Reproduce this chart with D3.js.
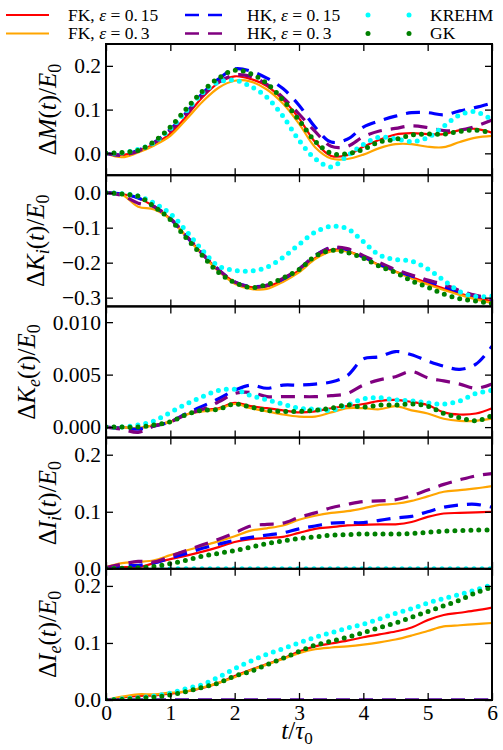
<!DOCTYPE html>
<html>
<head>
<meta charset="utf-8">
<script src="https://cdn.jsdelivr.net/npm/d3@7"></script>
<style>
  body { margin: 0; background: #fff; }
  svg { font-family: "Liberation Serif", "DejaVu Serif", serif; }
</style>
</head>
<body>
<div id="chart"></div>
<script>
// time samples (t / tau0)
const times = [0, 0.25, 0.5, 0.75, 1, 1.25, 1.5, 1.75, 2, 2.25, 2.5, 2.75, 3,
               3.25, 3.5, 3.75, 4, 4.25, 4.5, 4.75, 5, 5.25, 5.5, 5.75, 6];
const xTicks = [0, 1, 2, 3, 4, 5, 6];

// Delta M(t)/E0
const mFK15  = [0,-0.004,0.006,0.021,0.045,0.085,0.128,0.161,0.176,0.170,0.154,0.123,0.080,0.026,-0.006,-0.004,0.015,0.031,0.043,0.046,0.044,0.044,0.053,0.056,0.047];
const mFK30  = [0,-0.009,0.002,0.018,0.040,0.078,0.118,0.150,0.166,0.164,0.146,0.114,0.068,0.014,-0.012,-0.013,-0.003,0.012,0.021,0.021,0.015,0.014,0.026,0.036,0.040];
const mHK15  = [0,-0.004,0.007,0.025,0.055,0.093,0.137,0.170,0.193,0.188,0.172,0.148,0.110,0.060,0.026,0.032,0.060,0.074,0.085,0.093,0.093,0.088,0.097,0.105,0.115];
const mHK30  = [0,-0.004,0.005,0.024,0.052,0.090,0.133,0.163,0.179,0.176,0.158,0.128,0.090,0.050,0.016,0.016,0.038,0.051,0.057,0.063,0.059,0.052,0.053,0.062,0.076];
const mKREHM = [0,0.001,0.009,0.025,0.056,0.097,0.138,0.163,0.167,0.153,0.128,0.085,0.030,-0.012,-0.031,-0.006,0.020,0.037,0.033,0.027,0.036,0.062,0.088,0.095,0.076];
const mGK    = [0,0.002,0.007,0.027,0.060,0.102,0.142,0.172,0.190,0.182,0.160,0.122,0.076,0.028,0.000,-0.001,0.009,0.026,0.032,0.042,0.044,0.044,0.050,0.053,0.047];

// Delta K_i(t)/E0
const kiFK15  = [0,-0.004,-0.015,-0.040,-0.075,-0.125,-0.175,-0.222,-0.255,-0.270,-0.268,-0.250,-0.222,-0.187,-0.163,-0.167,-0.185,-0.207,-0.225,-0.242,-0.258,-0.274,-0.288,-0.300,-0.310];
const kiFK30  = [0,-0.006,-0.040,-0.048,-0.076,-0.127,-0.178,-0.225,-0.260,-0.275,-0.275,-0.255,-0.228,-0.190,-0.168,-0.168,-0.186,-0.208,-0.226,-0.245,-0.262,-0.278,-0.292,-0.305,-0.315];
const kiHK15  = [0,-0.004,-0.015,-0.040,-0.075,-0.125,-0.175,-0.220,-0.255,-0.268,-0.265,-0.247,-0.218,-0.180,-0.157,-0.163,-0.183,-0.205,-0.222,-0.238,-0.252,-0.268,-0.283,-0.295,-0.305];
const kiHK30  = [0,-0.008,-0.030,-0.040,-0.073,-0.123,-0.175,-0.220,-0.255,-0.270,-0.265,-0.245,-0.218,-0.180,-0.157,-0.160,-0.180,-0.200,-0.220,-0.235,-0.250,-0.262,-0.280,-0.293,-0.302];
const kiKREHM = [0,-0.003,-0.010,-0.030,-0.060,-0.110,-0.165,-0.210,-0.222,-0.224,-0.213,-0.185,-0.148,-0.113,-0.096,-0.103,-0.140,-0.178,-0.191,-0.196,-0.218,-0.250,-0.283,-0.297,-0.295];
const kiGK    = [0,-0.004,-0.010,-0.040,-0.077,-0.130,-0.180,-0.228,-0.257,-0.271,-0.263,-0.244,-0.220,-0.182,-0.165,-0.171,-0.187,-0.210,-0.228,-0.252,-0.270,-0.290,-0.303,-0.310,-0.317];

// Delta K_e(t)/E0
const keFK15  = [0,0,-0.0001,0.0002,0.0005,0.0012,0.0016,0.0018,0.0023,0.0020,0.0018,0.0016,0.0014,0.0015,0.0018,0.0020,0.0022,0.0025,0.0026,0.0024,0.0021,0.0014,0.0012,0.0013,0.0018];
const keFK30  = [0,0,-0.0001,0.0002,0.0005,0.0012,0.0015,0.0017,0.0022,0.0018,0.0015,0.0012,0.0010,0.0010,0.0014,0.0018,0.0018,0.0017,0.0020,0.0016,0.0013,0.0008,0.0006,0.0006,0.0008];
const keHK15  = [0,-0.0001,-0.0002,0.0001,0.0005,0.0013,0.0020,0.0027,0.0035,0.0040,0.0037,0.0040,0.0040,0.0041,0.0043,0.0049,0.0065,0.0067,0.0072,0.0069,0.0063,0.0058,0.0055,0.0060,0.0077];
const keHK30  = [0,-0.0002,-0.0005,0.0001,0.0005,0.0012,0.0017,0.0024,0.0032,0.0033,0.0029,0.0029,0.0029,0.0029,0.0030,0.0032,0.0040,0.0045,0.0048,0.0053,0.0047,0.0044,0.0041,0.0037,0.0041];
const keKREHM = [0,0,0.0002,0.0006,0.0014,0.0022,0.0029,0.0035,0.0036,0.0030,0.0026,0.0022,0.0018,0.0017,0.0016,0.0021,0.0027,0.0028,0.0026,0.0025,0.0023,0.0022,0.0025,0.0032,0.0035];
const keGK    = [0,0,0,0.0002,0.0005,0.0012,0.0016,0.0017,0.0022,0.0019,0.0016,0.0015,0.0015,0.0016,0.0018,0.0021,0.0019,0.0021,0.0021,0.0022,0.0020,0.0013,0.0009,0.0006,0.0011];

// Delta I_i(t)/E0
const iiFK15  = [0,0.003,0.003,0.010,0.017,0.023,0.030,0.038,0.047,0.052,0.054,0.056,0.063,0.070,0.073,0.076,0.077,0.078,0.078,0.082,0.091,0.097,0.098,0.099,0.100];
const iiFK30  = [0.003,0.010,0.012,0.015,0.024,0.032,0.040,0.048,0.057,0.067,0.071,0.076,0.086,0.093,0.098,0.101,0.106,0.112,0.114,0.119,0.127,0.135,0.138,0.141,0.145];
const iiHK15  = [0,0.005,0.006,0.010,0.019,0.027,0.036,0.043,0.050,0.055,0.059,0.063,0.070,0.075,0.080,0.081,0.081,0.085,0.089,0.092,0.100,0.108,0.112,0.113,0.108];
const iiHK30  = [0.002,0.008,0.013,0.012,0.022,0.032,0.042,0.052,0.063,0.075,0.078,0.080,0.090,0.098,0.107,0.113,0.118,0.119,0.121,0.128,0.138,0.148,0.156,0.163,0.167];
const iiKREHM = [0,0,0,0,0,0,0,0,0,0,0,0,0,0,0,0,0,0,0,0,0,0,0,0,0];
const iiGK    = [0,0.001,0.002,0.004,0.009,0.015,0.022,0.027,0.032,0.038,0.044,0.049,0.053,0.056,0.059,0.060,0.061,0.061,0.061,0.062,0.064,0.066,0.067,0.068,0.068];

// Delta I_e(t)/E0
const ieFK15  = [0,0.004,0.007,0.008,0.011,0.015,0.021,0.030,0.042,0.053,0.063,0.073,0.085,0.094,0.099,0.104,0.110,0.115,0.120,0.127,0.140,0.149,0.153,0.157,0.162];
const ieFK30  = [0,0.006,0.010,0.010,0.013,0.015,0.022,0.030,0.040,0.052,0.062,0.072,0.082,0.089,0.092,0.094,0.097,0.101,0.106,0.113,0.121,0.129,0.131,0.133,0.135];
const ieHK15  = [0,0,0,0,0,0,0,0,0,0,0,0,0,0,0,0,0,0,0,0,0,0,0,0,0];
const ieHK30  = [0,0,0,0,0,0,0,0,0,0,0,0,0,0,0,0,0,0,0,0,0,0,0,0,0];
const ieKREHM = [0,0.002,0.004,0.007,0.012,0.020,0.027,0.040,0.055,0.068,0.080,0.090,0.100,0.110,0.118,0.126,0.133,0.142,0.152,0.160,0.170,0.178,0.185,0.193,0.202];
const ieGK    = [0,0.001,0.003,0.005,0.009,0.015,0.022,0.030,0.042,0.050,0.062,0.073,0.085,0.096,0.103,0.110,0.118,0.127,0.135,0.145,0.155,0.165,0.175,0.188,0.198];

const seriesNames = ["FK15", "FK30", "HK15", "HK30", "KREHM", "GK"];
const legendLabels = [["FK, ", "0.", "15"], ["FK, ", "0.", "3"], ["HK, ", "0.", "15"],
                      ["HK, ", "0.", "3"], ["KREHM"], ["GK"]];

const seriesStyle = {
  FK15:  { color: "#ff0000", width: 2.2, dash: null,   cap: "butt" },
  FK30:  { color: "#ffa500", width: 2.2, dash: null,   cap: "butt" },
  HK15:  { color: "#0000ff", width: 3.2, dash: "14,9", cap: "butt" },
  HK30:  { color: "#800080", width: 3.2, dash: "14,9", cap: "butt" },
  KREHM: { color: "#00ffff", width: 5,   dash: "0,8",  cap: "round" },
  GK:    { color: "#008000", width: 5,   dash: "0,8",  cap: "round" }
};

const panels = [
  { sym: "M", sub: null, domain: [-0.05, 0.25], ticks: [0, 0.1, 0.2], fmt: ".1f",
    series: [mFK15, mFK30, mHK15, mHK30, mKREHM, mGK] },
  { sym: "K", sub: "i", domain: [-0.325, 0.05], ticks: [-0.3, -0.2, -0.1, 0], fmt: ".1f",
    series: [kiFK15, kiFK30, kiHK15, kiHK30, kiKREHM, kiGK] },
  { sym: "K", sub: "e", domain: [-0.001, 0.0115], ticks: [0, 0.005, 0.01], fmt: ".3f",
    series: [keFK15, keFK30, keHK15, keHK30, keKREHM, keGK] },
  { sym: "I", sub: "i", domain: [0, 0.23], ticks: [0, 0.1, 0.2], fmt: ".1f",
    series: [iiFK15, iiFK30, iiHK15, iiHK30, iiKREHM, iiGK] },
  { sym: "I", sub: "e", domain: [0, 0.23], ticks: [0, 0.1, 0.2], fmt: ".1f",
    series: [ieFK15, ieFK30, ieHK15, ieHK30, ieKREHM, ieGK] }
];

const width = 503, height = 750;
const left = 106, right = 492, top0 = 44, panelH = 131.2;
const tickLen = 7;
const tickFont = 21.5;

const svg = d3.select("#chart").append("svg")
  .attr("width", width)
  .attr("height", height);

const x = d3.scaleLinear().domain([0, 6]).range([left, right]);

panels.forEach((p, i) => {
  const top = top0 + i * panelH;
  const bottom = top + panelH;
  const y = d3.scaleLinear().domain(p.domain).range([bottom, top]);

  svg.append("clipPath").attr("id", "clip" + i)
    .append("rect")
    .attr("x", left).attr("y", top)
    .attr("width", right - left).attr("height", panelH);

  const line = d3.line()
    .x((d, j) => x(times[j]))
    .y(d => y(d))
    .curve(d3.curveCatmullRom.alpha(0.5));

  const g = svg.append("g").attr("clip-path", `url(#clip${i})`);
  p.series.forEach((vals, k) => {
    const s = seriesStyle[seriesNames[k]];
    g.append("path")
      .attr("d", line(vals))
      .attr("fill", "none")
      .attr("stroke", s.color)
      .attr("stroke-width", s.width)
      .attr("stroke-dasharray", s.dash)
      .attr("stroke-linecap", s.cap);
  });

  // axes, ticks pointing inward
  const yl = svg.append("g").attr("transform", `translate(${left},0)`)
    .call(d3.axisLeft(y).tickValues(p.ticks).tickFormat(d3.format(p.fmt))
      .tickSizeInner(-tickLen).tickSizeOuter(0).tickPadding(5));
  const yr = svg.append("g").attr("transform", `translate(${right},0)`)
    .call(d3.axisRight(y).tickValues(p.ticks).tickFormat("")
      .tickSizeInner(-tickLen).tickSizeOuter(0));
  const xt = svg.append("g").attr("transform", `translate(0,${top})`)
    .call(d3.axisTop(x).tickValues(xTicks).tickFormat("")
      .tickSizeInner(-tickLen).tickSizeOuter(0));
  const xb = svg.append("g").attr("transform", `translate(0,${bottom})`)
    .call(d3.axisBottom(x).tickValues(xTicks)
      .tickFormat(i === panels.length - 1 ? d3.format("d") : "")
      .tickSizeInner(-tickLen).tickSizeOuter(0).tickPadding(5));

  [yl, yr, xt, xb].forEach(a => {
    a.select(".domain").remove();
    a.selectAll(".tick line").attr("stroke", "#000").attr("stroke-width", 1.3);
    a.selectAll("text").attr("font-family", "Liberation Serif").attr("font-size", tickFont).attr("fill", "#000");
  });

  svg.append("rect")
    .attr("x", left).attr("y", top)
    .attr("width", right - left).attr("height", panelH)
    .attr("fill", "none").attr("stroke", "#000").attr("stroke-width", 2);

  // y label: Delta X_s(t)/E_0, placed just left of the widest tick label
  const lab = svg.append("text")
    .attr("text-anchor", "middle")
    .attr("font-size", 25);
  lab.append("tspan").text("Δ");
  lab.append("tspan").attr("font-style", "italic").text(p.sym);
  if (p.sub) {
    lab.append("tspan").attr("font-style", "italic").attr("font-size", 18).attr("dy", 5).text(p.sub);
    lab.append("tspan").attr("dy", -5).text("(");
  } else {
    lab.append("tspan").text("(");
  }
  lab.append("tspan").attr("font-style", "italic").text("t");
  lab.append("tspan").text(")/");
  lab.append("tspan").attr("font-style", "italic").text("E");
  lab.append("tspan").attr("font-size", 18).attr("dy", 5).text("0");

  let tickLeft = left;
  yl.selectAll(".tick text").each(function () {
    const b = this.getBBox();
    const m = this.parentNode.getCTM();
    tickLeft = Math.min(tickLeft, b.x + (m ? m.e : left));
  });
  const lb = lab.node().getBBox();
  const tx = tickLeft - 9 - (lb.y + lb.height);
  lab.attr("transform", `translate(${tx},${top + panelH / 2}) rotate(-90)`);
});

// x label
const xl = svg.append("text")
  .attr("x", 297).attr("y", 739)
  .attr("text-anchor", "middle")
  .attr("font-size", 25);
xl.append("tspan").attr("font-style", "italic").text("t");
xl.append("tspan").text("/");
xl.append("tspan").attr("font-style", "italic").text("τ");
xl.append("tspan").attr("font-size", 17).attr("dy", 5).text("0");

// legend, 3 columns x 2 rows
const legCols = [6, 185, 366];
const legText = [68, 247, 430];
const legRows = [15, 33.5];
seriesNames.forEach((name, k) => {
  const col = Math.floor(k / 2), row = k % 2;
  const s = seriesStyle[name];
  const yy = legRows[row];
  const x0 = legCols[col];
  if (s.cap === "round") {
    [x0 + 2, x0 + 43].forEach(cx => {
      svg.append("circle").attr("cx", cx).attr("cy", yy).attr("r", s.width / 2).attr("fill", s.color);
    });
  } else {
    svg.append("line")
      .attr("x1", x0).attr("x2", s.dash ? x0 + 38 : x0 + 43)
      .attr("y1", yy).attr("y2", yy)
      .attr("stroke", s.color)
      .attr("stroke-width", s.dash ? 2.7 : 2)
      .attr("stroke-dasharray", s.dash);
  }
  const t = svg.append("text")
    .attr("x", legText[col]).attr("y", yy + 5.5)
    .attr("font-size", 17.5);
  const parts = legendLabels[k];
  if (parts.length === 1) {
    t.text(parts[0]);
  } else {
    t.append("tspan").text(parts[0]);
    t.append("tspan").attr("font-style", "italic").text("ε");
    t.append("tspan").text(" = " + parts[1]);
    t.append("tspan").attr("dx", 3).text(parts[2]);
  }
});
</script>
</body>
</html>
